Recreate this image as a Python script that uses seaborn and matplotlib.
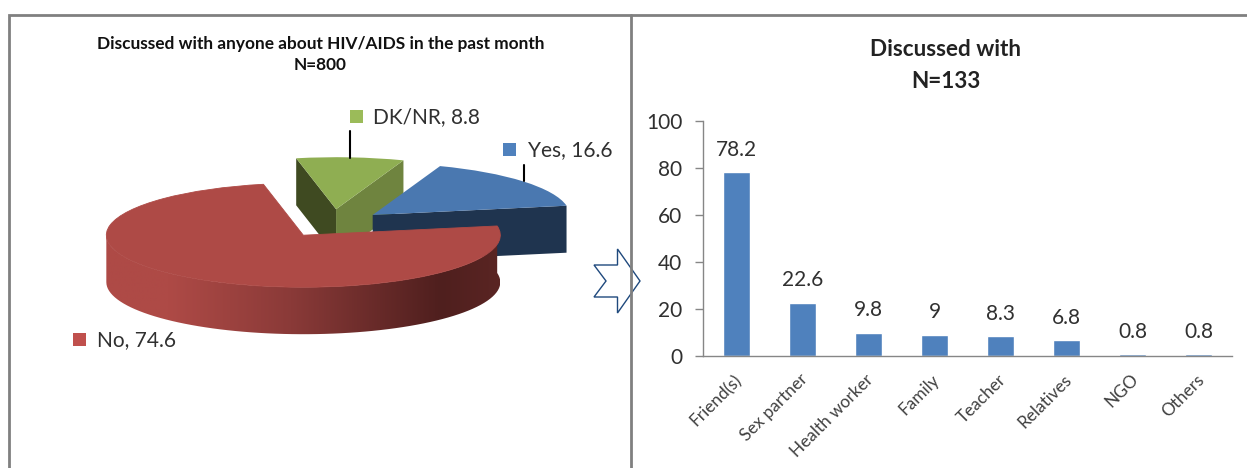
import numpy as np
import pandas as pd
import matplotlib.pyplot as plt
import seaborn as sns
from matplotlib.colors import LinearSegmentedColormap
from matplotlib.patches import Polygon, Rectangle
from matplotlib.transforms import ScaledTranslation

sns.set_style("white")
plt.rcParams['font.family'] = ['Lato', 'DejaVu Sans']

# Data
pie_labels = ["Yes", "No", "DK/NR"]
pie_values = [16.6, 74.6, 8.8]
bar_labels = ["Friend(s)", "Sex partner", "Health worker", "Family",
              "Teacher", "Relatives", "NGO", "Others"]
bar_values = [78.2, 22.6, 9.8, 9, 8.3, 6.8, 0.8, 0.8]

W, H = 1247, 468
fig = plt.figure(figsize=(W / 100, H / 100), dpi=100)

# -----------------------------
# Squashed exploded pie
# -----------------------------
RX, RY, DEPTH = 197, 52, 47 / 52
CX, CY = 332, 224

ax_pie = fig.add_axes([0, 0, 1, 1])
wedges, _ = ax_pie.pie(pie_values, explode=[0.27, 0.26, 0.285], startangle=70,
                       counterclock=False,
                       colors=["#4a78b0", "#ae4a46", "#8fae52"],
                       wedgeprops={"linewidth": 0})
ax_pie.set_aspect("auto")


def rim(w, theta):
    a = np.radians(theta)
    return np.array([w.center[0] + w.r * np.cos(a), w.center[1] + w.r * np.sin(a)])


def cut_face(w, theta, color, z):
    p = np.array(w.center)
    q = rim(w, theta)
    d = np.array([0, DEPTH])
    ax_pie.add_patch(Polygon([p, q, q - d, p - d], color=color, lw=0, zorder=z))


yes, no, dk = wedges
dk.set_zorder(3)
cut_face(dk, dk.theta1, "#6f843f", 2)
cut_face(dk, dk.theta2, "#3f4a21", 2)
yes.set_zorder(5)
cut_face(yes, yes.theta1, "#1f344f", 4)
no.set_zorder(7)
no.set_edgecolor("#ae4a46")
no.set_linewidth(0.6)

# red outer wall with a left to right gradient
angles = np.linspace(no.theta2, -180, 80)
top = np.array([rim(no, a) for a in angles])
wall = Polygon(np.vstack([top, top[::-1] - [0, DEPTH]]), transform=ax_pie.transData,
               fc="none", ec="none")
ax_pie.add_patch(wall)
shade = LinearSegmentedColormap.from_list(
    "wall", [(0, "#ae4a46"), (0.16, "#ae4a46"), (0.47, "#8a3a38"),
             (0.85, "#4f1f1e"), (1, "#5a2523")])
img = ax_pie.imshow(np.linspace(0, 1, 256)[None, :], cmap=shade, aspect="auto",
                    extent=[no.center[0] - 1, no.center[0] + 1, -3, 3], zorder=6)
img.set_clip_path(wall)

ax_pie.set_xlim(-CX / RX, (W - CX) / RX)
ax_pie.set_ylim((CY - H) / RY, CY / RY)
ax_pie.axis("off")

# -----------------------------
# Bars
# -----------------------------
df = pd.DataFrame({"who": bar_labels, "pct": bar_values})

ax = fig.add_axes([703 / W, (H - 356) / H, (1232 - 703) / W, (356 - 121) / H])
ax.patch.set_alpha(0)
sns.barplot(data=df, x="who", y="pct", color="#4f81bd", saturation=1, width=0.41,
            ax=ax)
ax.set_xlim(-0.5, 7.5)
ax.set_ylim(0, 100)
ax.set_xlabel("")
ax.set_ylabel("")
ax.set_xticks(np.arange(-0.5, 8), minor=True)
ax.set_xticks(range(8), bar_labels)
ax.set_yticks(range(0, 101, 20))
ax.tick_params(axis="x", which="major", length=0, pad=11, labelsize=12.4,
               labelcolor="#404040")
ax.tick_params(axis="x", which="minor", length=5, color="#868686", width=1)
ax.tick_params(axis="y", length=5.8, color="#868686", width=1, pad=9, left=True,
               labelsize=15, labelcolor="#303030")
plt.setp(ax.get_xticklabels(), rotation=45, ha="right", rotation_mode="anchor")
nudge = ScaledTranslation(-3 / 100, 0, fig.dpi_scale_trans)
for t in ax.get_xticklabels():
    t.set_transform(t.get_transform() + nudge)
for s in ["top", "right"]:
    ax.spines[s].set_visible(False)
for s in ["left", "bottom"]:
    ax.spines[s].set_color("#868686")
    ax.spines[s].set_linewidth(1)
ax.bar_label(ax.containers[0], fmt="%g", padding=9, fontsize=15, color="#303030")

# -----------------------------
# Frame, titles, pie labels, arrow
# -----------------------------
over = fig.add_axes([0, 0, 1, 1])
over.patch.set_alpha(0)
over.set_xlim(0, W)
over.set_ylim(H, 0)
over.axis("off")

frame = "#808080"
over.plot([9, 9, W], [H, 14.5, 14.5], color=frame, lw=2, solid_joinstyle="miter")
over.plot([631, 631], [14.5, H], color=frame, lw=2)

over.text(320.5, 44.5, "Discussed with anyone about HIV/AIDS in the past month", ha="center",
          va="center", fontsize=12.4, fontweight="bold", color="#111111")
over.text(320.5, 65.5, "N=800", ha="center", va="center", fontsize=12.4,
          fontweight="bold", color="#111111")
over.text(946, 49, "Discussed with", ha="center", va="center", fontsize=16.2,
          fontweight="bold", color="#222222")
over.text(946, 81, "N=133", ha="center", va="center", fontsize=16.2,
          fontweight="bold", color="#222222")

keys = [(350, 110, "#9bbb59", 373, 117, f"{pie_labels[2]}, {pie_values[2]}"),
        (503, 143, "#4f81bd", 528, 150, f"{pie_labels[0]}, {pie_values[0]}"),
        (73, 333, "#c0504d", 97, 340, f"{pie_labels[1]}, {pie_values[1]}")]
for kx, ky, kc, tx, ty, label in keys:
    over.add_patch(Rectangle((kx, ky), 13, 13, color=kc, lw=0))
    over.text(tx, ty, label, va="center", fontsize=15, color="#303030")

over.plot([350, 350], [131, 158], color="black", lw=1.5)
over.plot([524, 524], [165, 181], color="black", lw=1.5)

arrow = [(594, 265), (617.5, 265), (617.5, 249), (640, 281), (617.5, 313),
         (617.5, 297), (594, 297), (606, 281)]
over.add_patch(Polygon(arrow, closed=True, fc="white", ec="#1f497d", lw=1))

plt.savefig("out.png", dpi=100)
plt.close()
